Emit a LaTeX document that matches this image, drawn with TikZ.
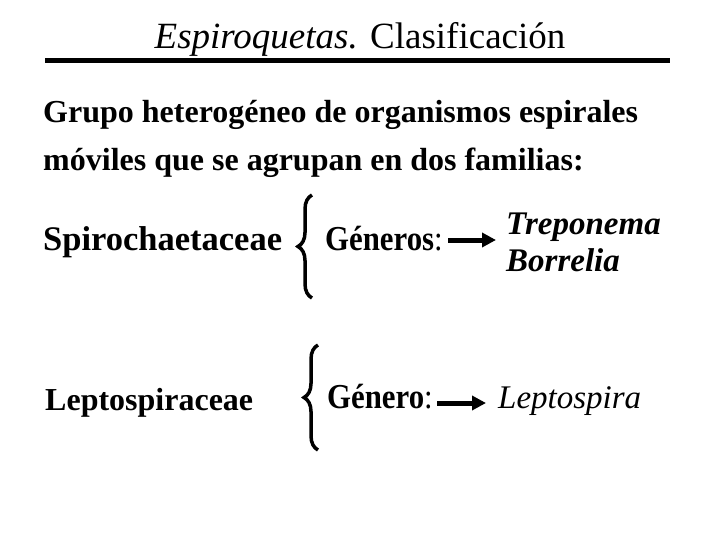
\documentclass[tikz,border=0pt]{standalone}
\usepackage{fontspec}
\usepackage{graphicx}
\setmainfont{Liberation Serif}
\newcommand\estrecho[1]{\scalebox{0.88}[1]{#1}}
\usetikzlibrary{positioning,decorations.pathreplacing,arrows.meta}

\begin{document}
\begin{tikzpicture}[
	x=1pt, y=-1pt,
	texto/.style={anchor=base west, inner sep=0pt, font=\fontsize{32}{36}\selectfont\bfseries},
	familia/.style={texto, font=\fontsize{34.5}{36}\selectfont\bfseries},
	genero/.style={texto, font=\fontsize{35}{36}\selectfont\bfseries},
	especie/.style={texto, font=\fontsize{33}{38}\selectfont\bfseries\itshape},
	llave/.style={decorate, decoration={brace, amplitude=14pt}, line width=3.5pt},
	flecha/.style={-{Triangle[length=14pt,width=14pt]}, line width=5pt}
]
	\useasboundingbox (0,0) rectangle (720,540);
	\node[anchor=base, inner sep=0pt, font=\fontsize{37}{40}\selectfont] (title) at (360,49) {\textit{Espiroquetas.} Clasificación};
	\draw[line width=5pt] (45,61) -- (670,61);

	\node[texto] (grupo) at (43,123) {Grupo heterogéneo de organismos espirales};
	\node[texto] (moviles) at (43,171) {móviles que se agrupan en dos familias:};

	\node[familia] (spiro) at (43,251) {Spirochaetaceae};
	\coordinate (b1a) at (312,298);
	\coordinate (b1b) at (312,195);
	\draw[llave] (b1a) -- (b1b);
	\node[genero] (generos) at (325,251) {\estrecho{Géneros\textmd{:}}};
	\node[especie] (trepo) at (506,234) {Treponema};
	\node[especie] (borre) at (506,271) {Borrelia};
	\coordinate (f1) at (448,240);
	\coordinate (f1b) at (496,240);
	\draw[flecha] (f1) -- (f1b);

	\node[familia, font=\fontsize{32}{36}\selectfont\bfseries] (lepto) at (45,410) {Leptospiraceae};
	\coordinate (b2a) at (318,450);
	\coordinate (b2b) at (318,345);
	\draw[llave] (b2a) -- (b2b);
	\node[genero] (genero) at (327,408) {\estrecho{Género\textmd{:}}};
	\node[especie, font=\fontsize{33}{38}\selectfont\itshape] (leptosp) at (498,408) {Leptospira};
	\coordinate (f2) at (437,403);
	\coordinate (f2b) at (486,403);
	\draw[flecha] (f2) -- (f2b);
\end{tikzpicture}
\end{document}
